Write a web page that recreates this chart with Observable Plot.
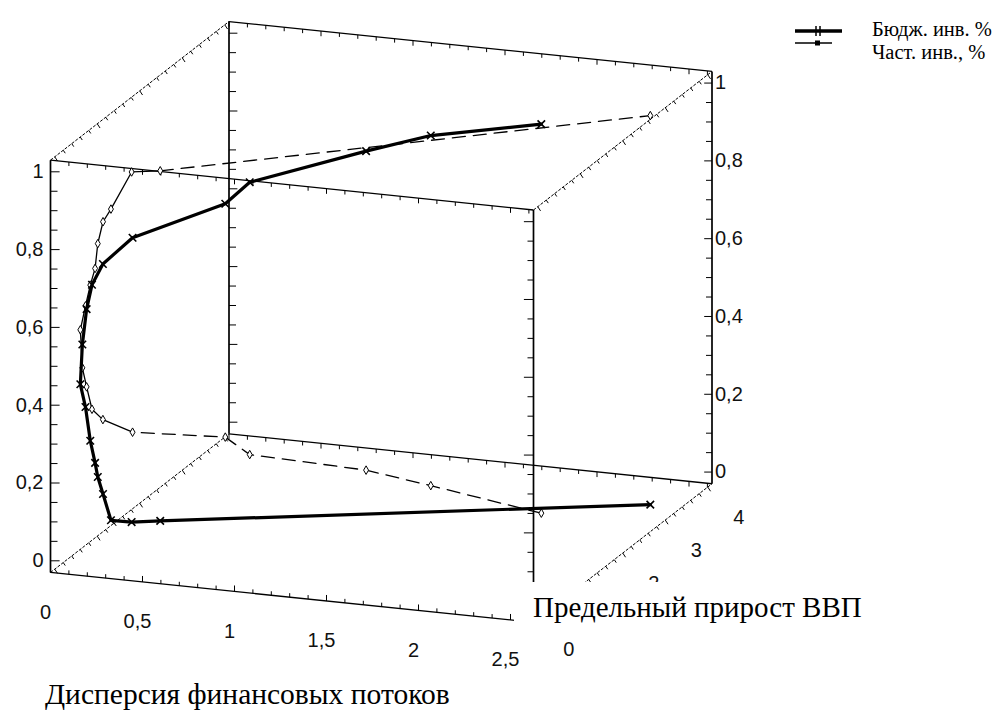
<!DOCTYPE html>
<html>
<head>
<meta charset="utf-8">
<script src="https://cdn.jsdelivr.net/npm/d3@7"></script>
<script src="https://cdn.jsdelivr.net/npm/@observablehq/plot@0.6"></script>
<style>
  html, body { margin: 0; padding: 0; background: #fff; }
  #wrap { position: relative; width: 998px; height: 717px; overflow: hidden; background: #fff; }
  #chart svg { position: absolute; left: 0; top: 0; }
  .serif { font-family: "Liberation Serif", "Times New Roman", serif; color: #000; position: absolute; white-space: nowrap; }
  #depthTitle { left: 514px; top: 582px; width: 380px; height: 58px; background: #fff; }
  #depthTitle span { position: absolute; left: 19px; top: 11px; font-size: 29px; line-height: 1; }
  #xTitle { left: 45px; top: 680px; font-size: 29.5px; line-height: 1; }
  #legendKeys { position: absolute; left: 790px; top: 20px; }
  .legendText { left: 872px; font-size: 20.5px; line-height: 22.7px; }
</style>
</head>
<body>
<div id="wrap">
  <div id="chart"></div>
  <div id="depthTitle" class="serif"><span>Предельный прирост ВВП</span></div>
  <div id="xTitle" class="serif">Дисперсия финансовых потоков</div>
  <svg id="legendKeys" width="60" height="32">
    <line x1="5" y1="11" x2="52" y2="11" stroke="#000" stroke-width="3.5"/>
    <line x1="26" y1="6" x2="26" y2="16" stroke="#000" stroke-width="1.5"/>
    <line x1="30" y1="6" x2="30" y2="16" stroke="#000" stroke-width="1.5"/>
    <line x1="5" y1="23" x2="42" y2="23" stroke="#000" stroke-width="1.5"/>
    <rect x="25" y="20.5" width="5" height="5" fill="#000"/>
  </svg>
  <div class="serif legendText" style="top:18px">Бюдж. инв. %</div>
  <div class="serif legendText" style="top:41px">Част. инв., %</div>
</div>
<script>
// Trajectory: dispersion of financial flows (x), marginal GDP growth (depth),
// and the shares of budget and private investment (height).
const dispersion   = [2.06, 1.48, 1.17, 0.66, 0.555, 0.20, 0.10, 0.08, 0.06, 0.09, 0.086, 0.107, 0.17, 0.21, 0.19, 0.20, 0.28, 0.27, 0.40, 2.53];
const gdpGrowth    = [2.53, 2.44, 2.26, 1.73, 1.61, 0.965, 0.70, 0.53, 0.49, 0.26, 0.23, 0.26, 0.10, 0.04, 0.19, 0.27, 0.11, 0.64, 0.75, 3.06];
const budgetShare  = [1.00, 0.95, 0.91, 0.85, 0.80, 0.75, 0.70, 0.66, 0.60, 0.53, 0.43, 0.37, 0.30, 0.25, 0.20, 0.15, 0.10, 0.05, 0.05, 0.00];
const privateShare = [0.00, 0.05, 0.09, 0.15, 0.20, 0.25, 0.30, 0.34, 0.40, 0.47, 0.57, 0.63, 0.70, 0.75, 0.80, 0.85, 0.90, 0.95, 0.95, 1.00];

// Axis ticks and their labels (the depth label for 1 sits under the axis title box)
const xTickValues = [0, 0.5, 1, 1.5, 2, 2.5];
const xTickLabels = ["0", "0,5", "1", "1,5", "2", "2,5"];
const depthTickValues = [0, 2, 3, 4];
const depthTickLabels = ["0", "2", "3", "4"];
const zTickValues = [0, 0.2, 0.4, 0.6, 0.8, 1];
const zTickLabels = ["0", "0,2", "0,4", "0,6", "0,8", "1"];

const rows = dispersion.map((x, i) => ({
  x, depth: gdpGrowth[i], budget: budgetShare[i], priv: privateShare[i]
}));

// Oblique projection of the 3-D box onto the page
const W = 998, H = 717;
const box = { x: [0, 2.625], depth: [-0.1, 4.1], z: [-0.03, 1.03] };
const view = { origin: [54.25, 557], ex: [184, 19], ey: [42.5, -33], ez: [0, -389] };
function project(x, d, z) {
  return [
    view.origin[0] + view.ex[0] * x + view.ey[0] * d + view.ez[0] * z,
    view.origin[1] + view.ex[1] * x + view.ey[1] * d + view.ez[1] * z
  ];
}
const corner = (ix, id, iz) => project(box.x[ix], box.depth[id], box.z[iz]);
const seg = (a, b) => ({ p1: corner(...a), p2: corner(...b) });

// Box edges grouped by drawing style
const verticalEdges = [seg([0,0,0],[0,0,1]), seg([1,0,0],[1,0,1]), seg([0,1,0],[0,1,1]), seg([1,1,0],[1,1,1])];
const xEdges = [seg([0,0,0],[1,0,0]), seg([0,0,1],[1,0,1]), seg([0,1,0],[1,1,0]), seg([0,1,1],[1,1,1])];
const depthEdges = [seg([0,0,0],[0,1,0]), seg([1,0,0],[1,1,0]), seg([0,0,1],[0,1,1]), seg([1,0,1],[1,1,1])];

// Small tick marks along the edges
function ticksAlong(values, at, dx, dy, majorEvery, majorScale) {
  return values.map(v => {
    const p = at(v);
    const major = majorEvery && Math.abs(v / majorEvery - Math.round(v / majorEvery)) < 1e-6;
    const k = major ? majorScale : 1;
    return { p1: p, p2: [p[0] + dx * k, p[1] + dy * k] };
  });
}
const zSteps = d3.range(0, 1.0001, 0.05);
const xSteps = d3.range(0, 2.6001, 0.1);
const dSteps = d3.range(0, 4.0001, 0.2);
const ticks = [
  ...ticksAlong(zSteps, z => project(box.x[0], box.depth[0], z), 7, 0, 0.2, 1.3),
  ...ticksAlong(zSteps, z => project(box.x[0], box.depth[1], z), 7, 0, 0.2, 1.2),
  ...ticksAlong(zSteps, z => project(box.x[1], box.depth[0], z), -6, 0, 0.2, 1.6),
  ...ticksAlong(zSteps, z => project(box.x[1], box.depth[1], z), -6, 0, 0.2, 1.3),
  ...ticksAlong(xSteps, x => project(x, box.depth[0], box.z[0]), 0, -4, 0.5, 1.5),
  ...ticksAlong(xSteps, x => project(x, box.depth[0], box.z[1]), 0, 4, 0.5, 1.3),
  ...ticksAlong(xSteps, x => project(x, box.depth[1], box.z[1]), 0, 4, 0.5, 1.3),
  ...ticksAlong(xSteps, x => project(x, box.depth[1], box.z[0]), 0, 4, 0.5, 1.3),
  ...ticksAlong(dSteps, d => project(box.x[0], d, box.z[1]), 2, 3, 1, 1.4),
  ...ticksAlong(dSteps, d => project(box.x[1], d, box.z[1]), 2, 3, 1, 1.4),
  ...ticksAlong(dSteps, d => project(box.x[0], d, box.z[0]), 2, 3, 1, 1.4),
  ...ticksAlong(dSteps, d => project(box.x[1], d, box.z[0]), 2, 3, 1, 1.4)
];

const link = (data, opts) => Plot.link(data, {
  x1: d => d.p1[0], y1: d => d.p1[1], x2: d => d.p2[0], y2: d => d.p2[1],
  stroke: "#000", ...opts
});

const budgetXY = { x: d => project(d.x, d.depth, d.budget)[0], y: d => project(d.x, d.depth, d.budget)[1] };
const privXY = { x: d => project(d.x, d.depth, d.priv)[0], y: d => project(d.x, d.depth, d.priv)[1] };

const zLabels = zTickValues.map((v, i) => ({ v, label: zTickLabels[i] }));
const xLabels = xTickValues.map((v, i) => ({ v, label: xTickLabels[i] }));
const dLabels = depthTickValues.map((v, i) => ({ v, label: depthTickLabels[i] }));
const sans = "Liberation Sans, Arial, sans-serif";
const labelColor = "#111";

const chart = Plot.plot({
  width: W,
  height: H,
  margin: 0,
  x: { domain: [0, W], range: [0, W], axis: null },
  y: { domain: [0, H], range: [0, H], axis: null },
  style: { background: "transparent", overflow: "visible" },
  marks: [
    link(depthEdges, { strokeWidth: 1, strokeDasharray: "3,1.5" }),
    link(xEdges, { strokeWidth: 1.3 }),
    link(verticalEdges, { strokeWidth: 1.7 }),
    link(ticks, { strokeWidth: 1 }),

    // private investment share (thin)
    Plot.line(rows.slice(0, 6), { ...privXY, stroke: "#000", strokeWidth: 1.3, strokeDasharray: "13,8" }),
    Plot.line(rows.slice(5, 19), { ...privXY, stroke: "#000", strokeWidth: 1.3 }),
    Plot.line(rows.slice(18), { ...privXY, stroke: "#000", strokeWidth: 1.3, strokeDasharray: "13,8" }),
    Plot.dot(rows, { ...privXY, symbol: "diamond", r: 2.6, fill: "#fff", stroke: "#000", strokeWidth: 1 }),

    // budget investment share (thick)
    Plot.line(rows, { ...budgetXY, stroke: "#000", strokeWidth: 3.2 }),
    Plot.dot(rows, { ...budgetXY, symbol: "times", r: 3.5, stroke: "#000", strokeWidth: 1.6 }),

    // tick labels
    Plot.text(zLabels, {
      x: d => project(box.x[0], box.depth[0], d.v)[0],
      y: d => project(box.x[0], box.depth[0], d.v)[1],
      text: "label", textAnchor: "end", dx: -7, fontSize: 20, fontFamily: sans, fill: labelColor
    }),
    Plot.text(zLabels, {
      x: d => project(box.x[1], box.depth[1], d.v)[0],
      y: d => project(box.x[1], box.depth[1], d.v)[1],
      text: "label", textAnchor: "start", dx: 3, fontSize: 20, fontFamily: sans, fill: labelColor
    }),
    Plot.text(xLabels, {
      x: d => project(d.v, box.depth[0], box.z[0])[0],
      y: d => project(d.v, box.depth[0], box.z[0])[1],
      text: "label", dx: -5, dy: 40, fontSize: 20, fontFamily: sans, fill: labelColor
    }),
    Plot.text(dLabels, {
      x: d => project(box.x[1], d.v, box.z[0])[0],
      y: d => project(box.x[1], d.v, box.z[0])[1],
      text: "label", dx: 31, dy: 31, fontSize: 20, fontFamily: sans, fill: labelColor
    })
  ]
});
document.getElementById("chart").appendChild(chart);
</script>
</body>
</html>
